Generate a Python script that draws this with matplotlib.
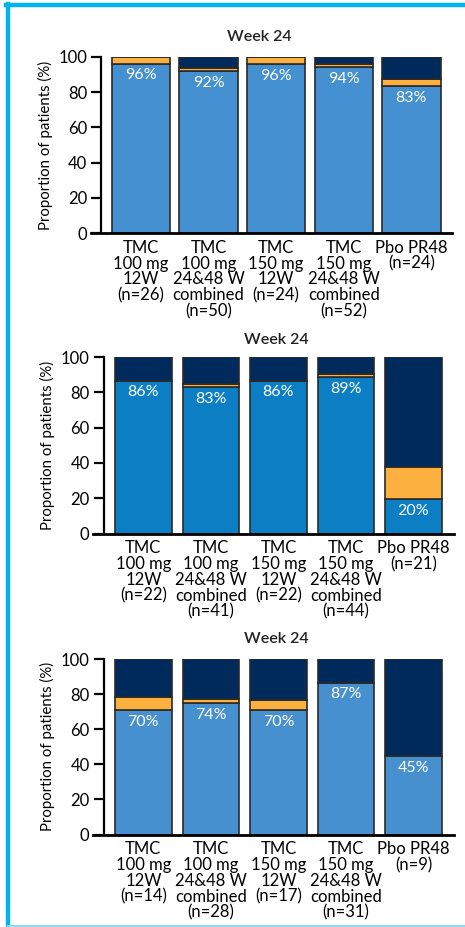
import matplotlib
matplotlib.use("Agg")
import matplotlib.pyplot as plt
from matplotlib.lines import Line2D

plt.rcParams['font.family'] = ['Lato', 'DejaVu Sans']

# 各组的类别标签
groups_a = ["TMC\n100 mg\n12W\n(n=26)", "TMC\n100 mg\n24&48 W\ncombined\n(n=50)",
            "TMC\n150 mg\n12W\n(n=24)", "TMC\n150 mg\n24&48 W\ncombined\n(n=52)",
            "Pbo PR48\n(n=24)"]
groups_b = ["TMC\n100 mg\n12W\n(n=22)", "TMC\n100 mg\n24&48 W\ncombined\n(n=41)",
            "TMC\n150 mg\n12W\n(n=22)", "TMC\n150 mg\n24&48 W\ncombined\n(n=44)",
            "Pbo PR48\n(n=21)"]
groups_c = ["TMC\n100 mg\n12W\n(n=14)", "TMC\n100 mg\n24&48 W\ncombined\n(n=28)",
            "TMC\n150 mg\n12W\n(n=17)", "TMC\n150 mg\n24&48 W\ncombined\n(n=31)",
            "Pbo PR48\n(n=9)"]

# 三段堆叠: 蓝色(应答) 橙色 深蓝
blue_a = [96.2, 92.0, 95.8, 94.2, 83.3]
orange_a = [3.8, 2.0, 4.2, 1.9, 4.2]
navy_a = [0.0, 6.0, 0.0, 3.9, 12.5]
labels_a = ["96%", "92%", "96%", "94%", "83%"]

blue_b = [86.4, 82.9, 86.4, 88.6, 19.5]
orange_b = [0.0, 2.0, 0.0, 1.8, 18.0]
navy_b = [13.6, 15.1, 13.6, 9.6, 62.5]
labels_b = ["86%", "83%", "86%", "89%", "20%"]

blue_c = [70.8, 74.7, 70.8, 86.5, 44.5]
orange_c = [7.4, 2.5, 5.6, 0.0, 0.0]
navy_c = [21.8, 22.8, 23.6, 13.5, 55.5]
labels_c = ["70%", "74%", "70%", "87%", "45%"]

W, H = 465, 927
NAVY = '#002a5c'
ORANGE = '#fbb040'


def px_rect(x0, x1, ytop, ybot):
    # 像素坐标 -> figure 比例
    return [x0 / W, 1 - ybot / H, (x1 - x0) / W, (ybot - ytop) / H]


def draw_panel(fig, rect, title_x, title_y, cats, blue, orange, navy, labels, bcolor, width):
    ax = fig.add_axes(rect)
    x = range(len(cats))
    ekw = dict(edgecolor='#2a2a2a', linewidth=1.2)
    ax.bar(x, blue, width, color=bcolor, **ekw)
    bottoms = [b for b in blue]
    ax.bar(x, orange, width, bottom=bottoms, color=ORANGE, **ekw)
    bottoms = [b + o for b, o in zip(blue, orange)]
    ax.bar(x, navy, width, bottom=bottoms, color=NAVY, **ekw)
    for i in x:
        ax.text(i, blue[i] - 6.5, labels[i], ha='center', va='center',
                color='white', fontsize=11.5)

    ax.set_xlim(-0.59, 4.6)
    ax.set_ylim(0, 100)
    ax.set_yticks([0, 20, 40, 60, 80, 100])
    ax.set_xticks(list(x))
    ax.set_xticklabels(cats, fontsize=12, va='top', linespacing=0.98)
    ax.tick_params(axis='x', length=0, pad=5)
    ax.tick_params(axis='y', length=7, width=1.6, labelsize=12, pad=3, direction='out')
    for s in ['top', 'right']:
        ax.spines[s].set_visible(False)
    ax.spines['left'].set_linewidth(1.6)
    ax.spines['bottom'].set_linewidth(2.0)
    ax.spines['bottom'].set_bounds(-0.59 - 0.15, 4.6)
    ax.spines['bottom'].set_clip_on(False)
    ax.set_ylabel("Proportion of patients (%)", fontsize=10.8, labelpad=4)
    fig.text(title_x / W, 1 - title_y / H, "Week 24", ha='center', va='center',
             fontsize=11.5, fontweight='semibold', color='#222222')
    return ax


fig = plt.figure(figsize=(W / 100, H / 100), dpi=100, facecolor='white')

draw_panel(fig, px_rect(101, 452, 57, 233), 259, 37, groups_a, blue_a, orange_a, navy_a,
           labels_a, '#4590d0', 0.865)
draw_panel(fig, px_rect(103.5, 454, 357, 533.5), 276, 340, groups_b, blue_b, orange_b, navy_b,
           labels_b, '#0b7ec4', 0.835)
draw_panel(fig, px_rect(103.5, 454, 659, 834.5), 276, 639, groups_c, blue_c, orange_c, navy_c,
           labels_c, '#4690cf', 0.835)

# 外框青色线
cyan = '#00b4f0'
fig.add_artist(Line2D([6 / W, 1], [1 - 5 / H, 1 - 5 / H], color=cyan, linewidth=3.2))
fig.add_artist(Line2D([8 / W, 8 / W], [0, 1 - 3.5 / H], color=cyan, linewidth=3.2))
fig.add_artist(Line2D([8 / W, 1], [1 / H, 1 / H], color='#8fdcf8', linewidth=1.5))

fig.savefig("out.png", dpi=100)
